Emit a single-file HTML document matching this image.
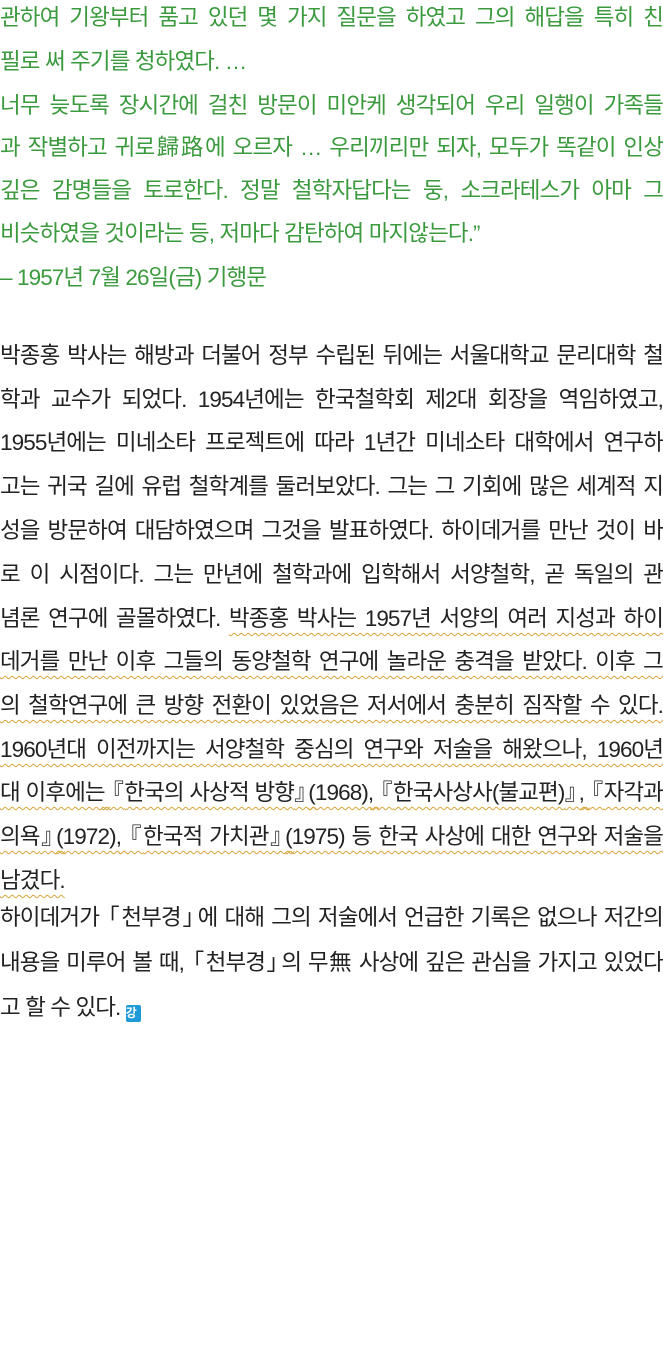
<!DOCTYPE html>
<html><head><meta charset="utf-8">
<style>
html,body{margin:0;padding:0;background:#fff;}
body{width:663px;height:1369px;position:relative;overflow:hidden;
font-family:"Liberation Sans","Noto Sans CJK KR",sans-serif;font-size:22.5px;letter-spacing:-0.9px;}
.l{position:absolute;left:0;width:663px;height:42px;line-height:42px;white-space:nowrap;text-align:justify;text-align-last:justify;text-justify:inter-word;}
.n{text-align-last:left;}
.g{color:#3b9a3e;}
.b{color:#222;}
.u{text-decoration:underline wavy #d9a43a;text-decoration-thickness:1px;text-underline-offset:6px;}
.o{margin-left:-0.4em;letter-spacing:0;}
.c{margin-right:-0.4em;letter-spacing:0;}
.ic{display:inline-block;width:15px;height:17px;background:#1e9ad8;color:#fff;font-size:12px;line-height:17px;text-align:center;border-radius:2px;vertical-align:-2px;font-weight:bold;letter-spacing:0;}
</style></head><body>
<div class="l g" style="top:-3px">관하여 기왕부터 품고 있던 몇 가지 질문을 하였고 그의 해답을 특히 친</div>
<div class="l g n" style="top:41px">필로 써 주기를 청하였다. …</div>
<div class="l g" style="top:85px">너무 늦도록 장시간에 걸친 방문이 미안케 생각되어 우리 일행이 가족들</div>
<div class="l g" style="top:127px">과 작별하고 귀로歸路에 오르자 … 우리끼리만 되자, 모두가 똑같이 인상</div>
<div class="l g" style="top:170px">깊은 감명들을 토로한다. 정말 철학자답다는 둥, 소크라테스가 아마 그</div>
<div class="l g n" style="top:213px">비슷하였을 것이라는 등, 저마다 감탄하여 마지않는다.”</div>
<div class="l g n" style="top:257px">– 1957년 7월 26일(금) 기행문</div>

<div class="l b" style="top:335px">박종홍 박사는 해방과 더불어 정부 수립된 뒤에는 서울대학교 문리대학 철</div>
<div class="l b" style="top:379px">학과 교수가 되었다. 1954년에는 한국철학회 제2대 회장을 역임하였고,</div>
<div class="l b" style="top:422px">1955년에는 미네소타 프로젝트에 따라 1년간 미네소타 대학에서 연구하</div>
<div class="l b" style="top:466px">고는 귀국 길에 유럽 철학계를 둘러보았다. 그는 그 기회에 많은 세계적 지</div>
<div class="l b" style="top:510px">성을 방문하여 대담하였으며 그것을 발표하였다. 하이데거를 만난 것이 바</div>
<div class="l b" style="top:554px">로 이 시점이다. 그는 만년에 철학과에 입학해서 서양철학, 곧 독일의 관</div>
<div class="l b" style="top:598px">념론 연구에 골몰하였다. <span class="u">박종홍 박사는 1957년 서양의 여러 지성과 하이</span></div>
<div class="l b" style="top:641px"><span class="u">데거를 만난 이후 그들의 동양철학 연구에 놀라운 충격을 받았다. 이후 그</span></div>
<div class="l b" style="top:685px"><span class="u">의 철학연구에 큰 방향 전환이 있었음은 저서에서 충분히 짐작할 수 있다.</span></div>
<div class="l b" style="top:729px"><span class="u">1960년대 이전까지는 서양철학 중심의 연구와 저술을 해왔으나, 1960년</span></div>
<div class="l b" style="top:772px"><span class="u">대 이후에는 <span class="o">『</span>한국의 사상적 방향<span class="c">』</span>(1968), <span class="o">『</span>한국사상사(불교편)<span class="c">』</span>, <span class="o">『</span>자각과</span></div>
<div class="l b" style="top:816px"><span class="u">의욕<span class="c">』</span>(1972), <span class="o">『</span>한국적 가치관<span class="c">』</span>(1975) 등 한국 사상에 대한 연구와 저술을</span></div>
<div class="l b n" style="top:860px"><span class="u">남겼다.</span></div>
<div class="l b" style="top:897px">하이데거가 <span class="o">「</span>천부경<span class="c">」</span>에 대해 그의 저술에서 언급한 기록은 없으나 저간의</div>
<div class="l b" style="top:942px">내용을 미루어 볼 때, <span class="o">「</span>천부경<span class="c">」</span>의 무無 사상에 깊은 관심을 가지고 있었다</div>
<div class="l b n" style="top:987px">고 할 수 있다. <span class="ic">강</span></div>
</body></html>
